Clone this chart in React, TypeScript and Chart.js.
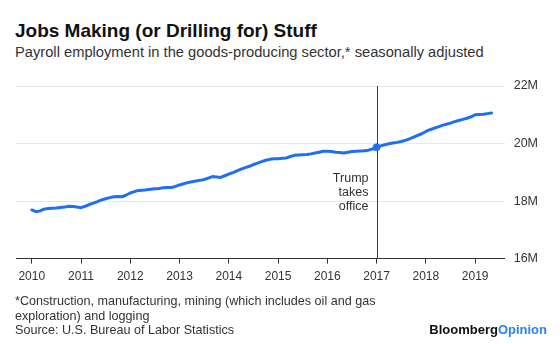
import React, { useEffect, useRef } from "react";
import { Chart, registerables } from "chart.js";

Chart.register(...registerables);

// ---- Data (millions of jobs, monthly, Jan 2010 – May 2019) ----
const startYear = 2010;
const yearTicks = [2010, 2011, 2012, 2013, 2014, 2015, 2016, 2017, 2018, 2019];
const yTicks = [16, 18, 20, 22];

const jobs2010 = [17.69, 17.63, 17.66, 17.72, 17.74, 17.75, 17.76, 17.78, 17.79, 17.82, 17.81, 17.79];
const jobs2011 = [17.77, 17.82, 17.88, 17.93, 17.98, 18.04, 18.08, 18.12, 18.15, 18.16, 18.15, 18.21];
const jobs2012 = [18.28, 18.33, 18.37, 18.38, 18.39, 18.41, 18.43, 18.44, 18.46, 18.47, 18.47, 18.51];
const jobs2013 = [18.56, 18.60, 18.64, 18.67, 18.70, 18.72, 18.75, 18.80, 18.85, 18.84, 18.82, 18.88];
const jobs2014 = [18.94, 18.99, 19.05, 19.11, 19.16, 19.21, 19.27, 19.32, 19.37, 19.42, 19.45, 19.47];
const jobs2015 = [19.47, 19.49, 19.50, 19.55, 19.59, 19.60, 19.61, 19.62, 19.64, 19.67, 19.70, 19.73];
const jobs2016 = [19.73, 19.72, 19.70, 19.69, 19.67, 19.70, 19.72, 19.73, 19.74, 19.75, 19.77, 19.81];
const jobs2017 = [19.87, 19.92, 19.96, 19.99, 20.02, 20.04, 20.07, 20.11, 20.16, 20.22, 20.28, 20.34];
const jobs2018 = [20.42, 20.48, 20.53, 20.58, 20.63, 20.67, 20.71, 20.76, 20.80, 20.84, 20.88, 20.93];
const jobs2019 = [21.00, 21.01, 21.02, 21.04, 21.06];

const employment = [
  ...jobs2010, ...jobs2011, ...jobs2012, ...jobs2013, ...jobs2014,
  ...jobs2015, ...jobs2016, ...jobs2017, ...jobs2018, ...jobs2019,
];

const eventYear = 2017;
const eventLabel = ["Trump", "takes", "office"];
const eventLabelValue = 18.77;

const FONT = '"Liberation Sans", Arial, Helvetica, sans-serif';
const BLUE = "#1f6ff2";

const eventPlugin = {
  id: "eventLine",
  beforeDatasetsDraw(chart: any) {
    const { ctx, chartArea, scales } = chart;
    const x = scales.x;
    const y = scales.y;
    const px = Math.round(x.getPixelForValue(eventYear)) + 0.5;
    ctx.save();
    ctx.strokeStyle = "#3a3a3a";
    ctx.lineWidth = 1;
    ctx.beginPath();
    ctx.moveTo(px, chartArea.top);
    ctx.lineTo(px, chartArea.bottom);
    ctx.stroke();
    ctx.font = `12.5px ${FONT}`;
    ctx.fillStyle = "#333";
    ctx.textAlign = "right";
    ctx.textBaseline = "middle";
    const y0 = y.getPixelForValue(eventLabelValue);
    eventLabel.forEach((t, i) => ctx.fillText(t, px - 9, y0 + i * 14));
    ctx.restore();
  },
};

function ChartCanvas() {
  const ref = useRef<HTMLCanvasElement | null>(null);
  useEffect(() => {
    if (!ref.current) return;
    const points = employment.map((v, i) => ({ x: startYear + i / 12, y: v }));
    const eventIndex = (eventYear - startYear) * 12;
    const chart = new Chart(ref.current, {
      type: "line",
      data: {
        datasets: [
          {
            data: points,
            borderColor: BLUE,
            backgroundColor: BLUE,
            borderWidth: 3,
            tension: 0,
            pointRadius: (c: any) => (c.dataIndex === eventIndex ? 3.5 : 0),
            pointBorderWidth: 1,
            pointBorderColor: BLUE,
            pointBackgroundColor: BLUE,
            pointHoverRadius: 0,
            borderCapStyle: "round",
            borderJoinStyle: "round",
          },
        ],
      },
      options: {
        animation: false,
        responsive: false,
        events: [],
        layout: { padding: { left: 16, right: 13, top: 86, bottom: 10 } },
        plugins: { legend: { display: false }, tooltip: { enabled: false }, title: { display: false } },
        scales: {
          x: {
            type: "linear",
            min: 2009.68,
            max: 2019.6,
            afterBuildTicks: (axis: any) => {
              axis.ticks = yearTicks.map((v) => ({ value: v }));
            },
            grid: {
              drawOnChartArea: false,
              drawTicks: true,
              tickLength: 5,
              color: "#333",
            },
            border: { display: true, color: "#333", width: 1 },
            ticks: {
              autoSkip: false,
              maxRotation: 0,
              padding: 6,
              color: "#333",
              font: { family: FONT, size: 12 },
              callback: (v: any) => String(v),
            },
          },
          y: {
            position: "right",
            min: 16,
            max: 22,
            afterBuildTicks: (axis: any) => {
              axis.ticks = yTicks.map((v) => ({ value: v }));
            },
            grid: { color: "#e8e8e8", drawTicks: false, lineWidth: 1 },
            border: { display: false },
            ticks: {
              padding: 9,
              color: "#333",
              font: { family: FONT, size: 12.5 },
              callback: (v: any) => `${v}M`,
            },
          },
        },
      },
      plugins: [eventPlugin],
    });
    return () => chart.destroy();
  }, []);
  return (
    <canvas
      ref={ref}
      width={560}
      height={300}
      style={{ position: "absolute", left: 0, top: 0, width: 560, height: 300 }}
    />
  );
}

export default function App() {
  return (
    <div
      style={{
        position: "fixed",
        left: 0,
        top: 0,
        width: 560,
        height: 344,
        background: "#fff",
        overflow: "hidden",
        fontFamily: FONT,
      }}
    >
      <div
        style={{
          position: "absolute",
          left: 15,
          top: 21,
          fontSize: 19,
          lineHeight: "19px",
          fontWeight: 700,
          color: "#111",
          whiteSpace: "nowrap",
        }}
      >
        Jobs Making (or Drilling for) Stuff
      </div>
      <div
        style={{
          position: "absolute",
          left: 15,
          top: 45,
          fontSize: 14.7,
          lineHeight: "14.7px",
          color: "#333",
          whiteSpace: "nowrap",
        }}
      >
        Payroll employment in the goods-producing sector,* seasonally adjusted
      </div>
      <ChartCanvas />
      <div
        style={{
          position: "absolute",
          left: 15,
          top: 294,
          fontSize: 12.6,
          lineHeight: "14.5px",
          color: "#333",
        }}
      >
        <div>*Construction, manufacturing, mining (which includes oil and gas</div>
        <div>exploration) and logging</div>
        <div>Source: U.S. Bureau of Labor Statistics</div>
      </div>
      <div
        style={{
          position: "absolute",
          right: 13,
          top: 323,
          fontSize: 13,
          lineHeight: "13px",
          fontWeight: 700,
          whiteSpace: "nowrap",
        }}
      >
        <span style={{ color: "#111" }}>Bloomberg</span>
        <span style={{ color: "#2a7ff7" }}>Opinion</span>
      </div>
    </div>
  );
}
